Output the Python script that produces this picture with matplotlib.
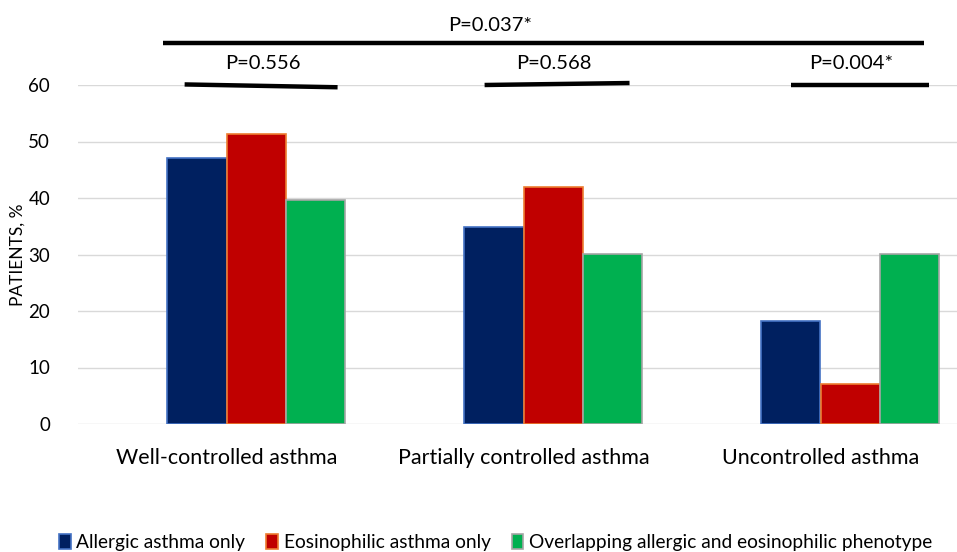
import numpy as np
import matplotlib.pyplot as plt

categories = ["Well-controlled asthma", "Partially controlled asthma", "Uncontrolled asthma"]
series_names = ["Allergic asthma only", "Eosinophilic asthma only",
                "Overlapping allergic and eosinophilic phenotype"]
allergic = [47.1, 34.9, 18.2]
eosinophilic = [51.3, 41.9, 7.1]
overlapping = [39.6, 30.1, 30.1]
pvals_group = ["P=0.556", "P=0.568", "P=0.004*"]
pval_all = "P=0.037*"

fills = ["#002060", "#C00000", "#00B050"]
edges = ["#4472C4", "#ED7D31", "#A5A5A5"]

plt.rcParams["font.family"] = ["Lato", "DejaVu Sans"]

fig = plt.figure(figsize=(9.57, 5.52), dpi=100)
ax = fig.add_axes([78 / 957, 128 / 552, 1 - 78 / 957, 339 / 552])

x = np.arange(len(categories))
w = 0.2
# Excel layout: four slots per category, first one empty
for k, vals in enumerate([allergic, eosinophilic, overlapping]):
    ax.bar(x + (k - 0.5) * w, vals, w, color=fills[k], edgecolor=edges[k],
           linewidth=1.2, label=series_names[k], zorder=3)

ax.set_ylim(0, 60)
ax.set_xlim(-0.5, -0.5 + 879 / 297)
ax.set_yticks(range(0, 61, 10))
ax.set_xticks(x)
ax.set_xticklabels(categories, fontsize=15.5)
ax.tick_params(axis="y", length=0, pad=20, labelsize=13.5)
ax.tick_params(axis="x", length=0, pad=17)
ax.grid(axis="y", color="#D9D9D9", linewidth=1, zorder=0)
for s in ax.spines.values():
    s.set_visible(False)
fig.text(18 / 957, 1 - 255 / 552, "PATIENTS, %", rotation=90, ha="center", va="center",
         fontsize=12.5)

# significance brackets (x in category units, y in data units)
seg = [(-0.141, 0.374, 60.1, 59.6), (0.869, 1.357, 60.0, 60.35), (1.902, 2.364, 60.0, 60.0)]
txt_x = [0.121, 1.101, 2.104]
for (x0, x1, y0, y1), tx, txt in zip(seg, txt_x, pvals_group):
    ax.plot([x0, x1], [y0, y1], color="black", lw=3.2, clip_on=False, solid_capstyle="butt")
    ax.text(tx, 63.8, txt, ha="center", va="center", fontsize=14.5)
ax.plot([-0.215, 2.350], [67.5, 67.5], color="black", lw=3.2, clip_on=False, solid_capstyle="butt")
ax.text(0.886, 70.6, pval_all, ha="center", va="center", fontsize=14.5)

fig.legend(loc="lower center", bbox_to_anchor=(0.518, -0.03), ncol=3, frameon=False,
           fontsize=13.8, handlelength=0.6, handleheight=0.8, handletextpad=0.3,
           columnspacing=1.1)

fig.savefig("out.png", dpi=100)
